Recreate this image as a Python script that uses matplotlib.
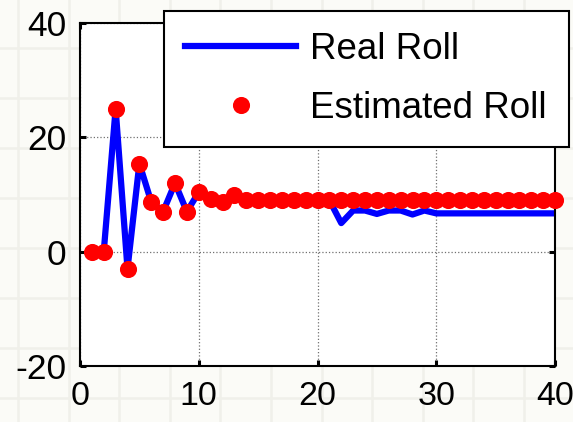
import numpy as np
import matplotlib
matplotlib.use("Agg")
import matplotlib.pyplot as plt
from matplotlib.lines import Line2D

plt.rcParams['font.family'] = ['Liberation Sans', 'DejaVu Sans']
plt.rcParams['axes.unicode_minus'] = False

# --- Data: roll angle per sample ---
samples = list(range(1, 41))
estimated_roll = [0.0, 0.0, 25.0, -3.0, 15.4, 8.7, 7.0, 12.0, 7.0, 10.4,
                  9.3, 8.7, 10.0, 9.0, 9.0, 9.0, 9.0, 9.0, 9.0, 9.0,
                  9.0, 9.0, 9.0, 9.0, 9.0, 9.0, 9.0, 9.0, 9.0, 9.0,
                  9.0, 9.0, 9.0, 9.0, 9.0, 9.0, 9.0, 9.0, 9.0, 9.0]
real_roll = [0.0, 0.0, 25.0, -3.0, 15.4, 8.7, 7.0, 12.0, 7.0, 10.4,
             9.3, 8.7, 10.0, 9.0, 9.0, 9.0, 9.0, 9.0, 9.0, 9.0,
             9.0, 5.0, 7.2, 7.2, 6.6, 7.2, 7.2, 6.5, 7.2, 6.7,
             6.7, 6.7, 6.7, 6.7, 6.7, 6.7, 6.7, 6.7, 6.7, 6.7]
x_ticks = [0, 10, 20, 30, 40]
y_ticks = [-20, 0, 20, 40]

W, H = 573, 422
fig = plt.figure(figsize=(W / 100, H / 100), dpi=100)
fig.patch.set_facecolor('#fbfbf7')

# faint paper grid behind the plot
for xp in np.arange(18, W, 50.6):
    fig.add_artist(Line2D([xp / W] * 2, [0, 1], transform=fig.transFigure,
                          color='#f0f0ea', lw=1.8, zorder=0))
for yp in np.arange(-2, H, 50.0):
    fig.add_artist(Line2D([0, 1], [1 - yp / H] * 2, transform=fig.transFigure,
                          color='#f0f0ea', lw=1.8, zorder=0))

ax = fig.add_axes([80 / W, 1 - 366 / H, 475 / W, 343 / H])
ax.set_facecolor('white')

ax.plot(samples, real_roll, color='blue', lw=4.5, label='Real Roll', zorder=2)
ax.plot(samples, estimated_roll, 'o', color='red', mec='red', ms=11.3,
        label='Estimated Roll', zorder=3, clip_on=False)

ax.set_xlim(0, 40)
ax.set_ylim(-20, 40)
ax.set_xticks(x_ticks)
ax.set_yticks(y_ticks)
ax.grid(True, linestyle=':', color='#707070', lw=0.9)
ax.tick_params(direction='in', top=True, right=True, length=4, width=2.2,
               labelsize=25.5, pad=10)
ax.tick_params(axis='x', labelsize=24.5, pad=11)
for sp in ax.spines.values():
    sp.set_linewidth(1.5)
    sp.set_color('black')

# legend box stretched across a fixed figure-space rectangle
leg = ax.legend(loc='upper left',
                bbox_to_anchor=(164 / W, 1 - 145 / H, 405 / W, 134 / H),
                bbox_transform=fig.transFigure, mode='expand', borderaxespad=0,
                fancybox=False, edgecolor='black', framealpha=1,
                numpoints=1, handlelength=3.0, handletextpad=0.4,
                borderpad=0.58, labelspacing=0.64, fontsize=26.5)
leg.get_frame().set_linewidth(1.5)
leg.set_zorder(10)

fig.savefig('out.png', dpi=100, facecolor=fig.get_facecolor())
